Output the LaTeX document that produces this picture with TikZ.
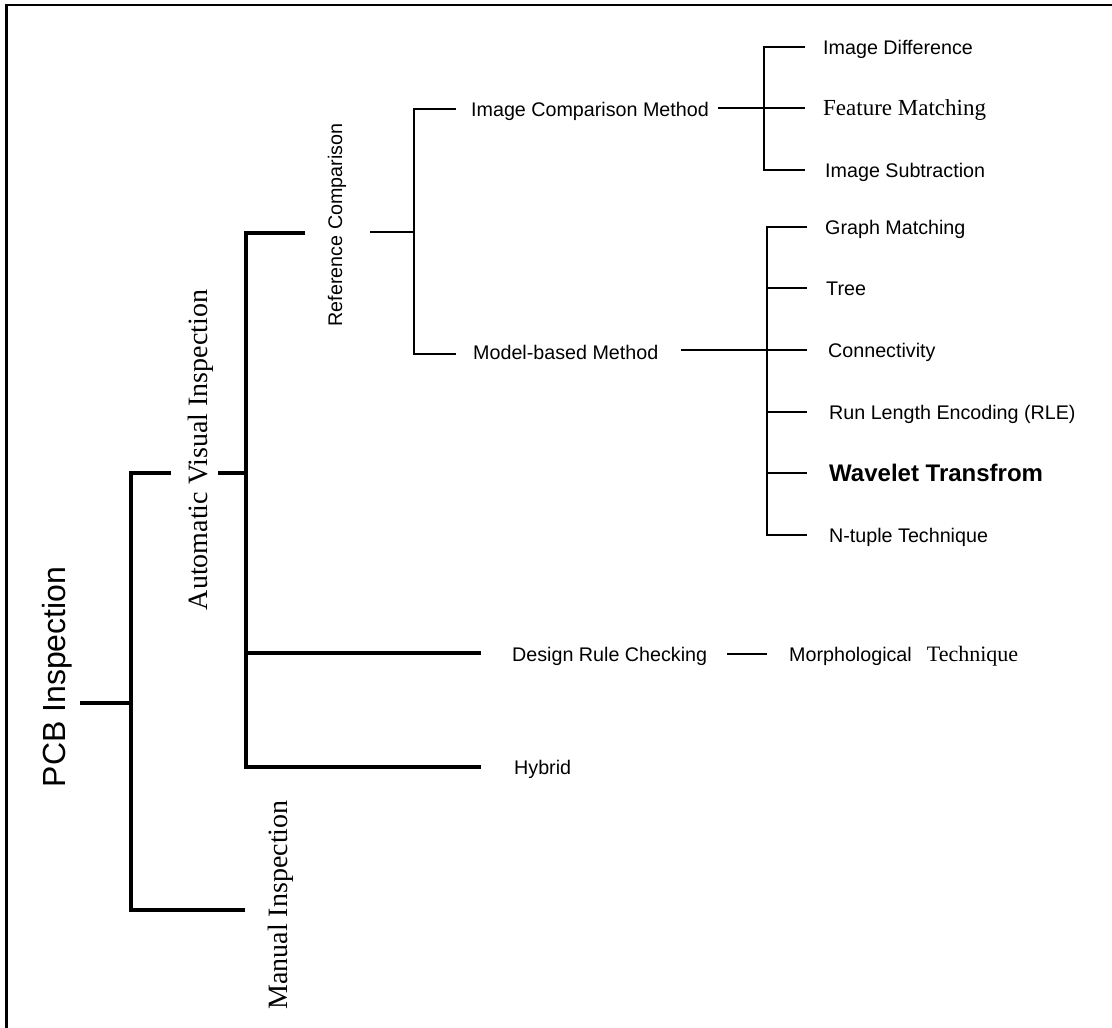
\documentclass[tikz,border=0pt]{standalone}
\usepackage{fontspec}
\setmainfont{Liberation Serif}
\setsansfont{Liberation Sans}
\begin{document}
\begin{tikzpicture}[x=1pt,y=-1pt,
  heavy/.style={line width=4pt},
  light/.style={line width=1.4pt},
  frameline/.style={line width=2.5pt},
  sf/.style={font=\fontsize{19.7}{22}\selectfont\sffamily},
  leaf/.style={anchor=west, inner sep=0pt, text depth=0pt, text height=14.1pt, sf},
  leafrm/.style={anchor=west, inner sep=0pt, text depth=0pt, text height=15.2pt,
                 font=\fontsize{23}{26}\selectfont\rmfamily},
  leafbf/.style={anchor=west, inner sep=0pt, text depth=0pt, text height=17.2pt,
                 font=\fontsize{24}{28}\selectfont\sffamily\bfseries},
  vert/.style={rotate=90, anchor=base, inner sep=0pt},
  bigrm/.style={font=\fontsize{28}{32}\selectfont\rmfamily},
]
\useasboundingbox (0,0) rectangle (1112,1028);
% open frame: top and left edges only
\draw[frameline] (6.5,1028) -- (6.5,5) -- (1112,5);

% ---- vertical labels ----
\node[vert, font=\fontsize{32}{36}\selectfont\sffamily] (pcb) at (65,677) {PCB Inspection};
\node[vert, bigrm] (avi) at (207,450) {Automatic Visual Inspection};
\node[vert, bigrm] (man) at (287,905) {Manual Inspection};
\node[vert, sf] (ref) at (342,225) {Reference Comparison};

% ---- main (heavy) brackets ----
\coordinate (root) at (80,703);
\coordinate (rj)   at (131,703);
\coordinate (aj)   at (131,473);
\coordinate (mj)   at (131,910);
\coordinate (mend) at (245,910);
\coordinate (aa)   at (171,473);
\coordinate (ab)   at (218,473);
\coordinate (avj)  at (246,473);
\coordinate (vt)   at (246,233);
\coordinate (vb)   at (246,767);
\coordinate (refend) at (305,233);
\coordinate (drcj) at (246,653);
\coordinate (drcend) at (481,653);
\coordinate (hybend) at (481,767);

\draw[heavy] (root) -- (rj);
\draw[heavy] (mend) -- (mj) -- (aj) -- (aa);
\draw[heavy] (ab) -- (avj);
\draw[heavy] (refend) -- (vt) -- (vb) -- (hybend);
\draw[heavy] (drcj) -- (drcend);

% ---- reference comparison split ----
\coordinate (refout) at (370,232);
\coordinate (s1)  at (414,232);
\coordinate (s1t) at (414,109);
\coordinate (s1b) at (414,354);
\coordinate (s1te) at (456,109);
\coordinate (s1be) at (456,354);
\draw[light] (refout) -- (s1);
\draw[light] (s1te) -- (s1t) -- (s1b) -- (s1be);

\node[leaf] (icm) at (471,109) {Image Comparison Method};
\node[leaf] (mbm) at (473,352) {Model-based Method};

% ---- image comparison methods ----
\coordinate (c1) at (718,108);
\coordinate (s2) at (764,108);
\coordinate (s2t) at (764,47);
\coordinate (s2b) at (764,170);
\coordinate (e2) at (805,0);
\draw[light] (c1) -- (e2 |- s2);
\draw[light] (e2 |- s2t) -- (s2t) -- (s2b) -- (e2 |- s2b);

\node[leaf]   (idiff) at (823,47)  {Image Difference};
\node[leafrm] (feat)  at (823,108) {Feature Matching};
\node[leaf]   (isub)  at (825,170) {Image Subtraction};

% ---- model-based methods ----
\coordinate (c2) at (681,350);
\coordinate (s3) at (767,350);
\coordinate (s3t) at (767,227);
\coordinate (s3b) at (767,535);
\coordinate (e3) at (807,0);
\draw[light] (c2) -- (e3 |- s3);
\draw[light] (e3 |- s3t) -- (s3t) -- (s3b) -- (e3 |- s3b);

\node[leaf]   (graph) at (825,227) {Graph Matching};
\node[leaf]   (tree)  at (826,288) {Tree};
\node[leaf]   (conn)  at (828,350) {Connectivity};
\node[leaf]   (rle)   at (829,412) {Run Length Encoding (RLE)};
\node[leafbf] (wave)  at (829,473) {Wavelet Transfrom};
\node[leaf]   (ntup)  at (829,535) {N-tuple Technique};

\foreach \n in {tree, rle, wave}
  \draw[light] (s3 |- \n.west) -- (e3 |- \n.west);

% ---- design rule checking and hybrid ----
\node[leaf] (drc) at (512,654) {Design Rule Checking};
\node[leaf] (morph) at (789,654)
  {Morphological\hspace{15pt}{\fontsize{22}{26}\selectfont\rmfamily Technique}};
\coordinate (d1) at (727,654);
\coordinate (d2) at (767,654);
\draw[light] (d1) -- (d2);

\node[leaf] (hyb) at (514,767) {Hybrid};
\end{tikzpicture}
\end{document}
